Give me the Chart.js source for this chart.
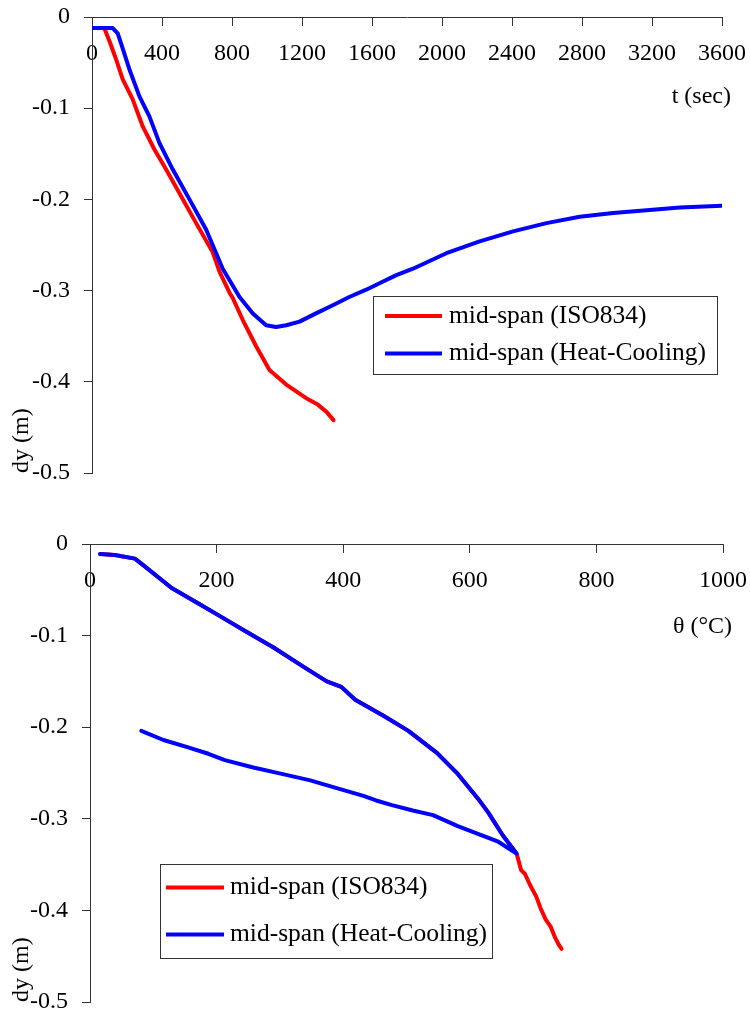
<!DOCTYPE html>
<html>
<head>
<meta charset="utf-8">
<script src="https://cdn.jsdelivr.net/npm/chart.js"></script>
<style>
  html, body { margin: 0; padding: 0; background: #fff; }
  canvas { display: block; }
</style>
</head>
<body>
<canvas id="chartTime" width="750" height="506"></canvas>
<canvas id="chartTemp" width="750" height="506"></canvas>
<script>
// top chart: deflection vs time
const isoTime = [0, 70, 99, 137, 175, 232, 290, 356, 423, 499, 595, 690, 728, 785, 804, 861, 938, 1014, 1110, 1224, 1290, 1340, 1380];
const isoDy = [-0.012, -0.012, -0.026, -0.046, -0.068, -0.090, -0.120, -0.145, -0.167, -0.193, -0.226, -0.258, -0.279, -0.302, -0.308, -0.332, -0.361, -0.387, -0.403, -0.418, -0.425, -0.433, -0.442];
const hcTime = [0, 117, 147, 166, 213, 271, 328, 385, 461, 557, 652, 747, 843, 919, 995, 1052, 1110, 1186, 1280, 1376, 1470, 1567, 1643, 1739, 1834, 2025, 2215, 2406, 2597, 2787, 2978, 3169, 3359, 3600];
const hcDy = [-0.012, -0.012, -0.018, -0.029, -0.057, -0.087, -0.109, -0.138, -0.167, -0.200, -0.233, -0.276, -0.307, -0.325, -0.338, -0.340, -0.338, -0.334, -0.325, -0.316, -0.307, -0.299, -0.292, -0.283, -0.276, -0.259, -0.246, -0.235, -0.226, -0.219, -0.215, -0.212, -0.209, -0.207];

// bottom chart: deflection vs temperature
const heatTemp = [16, 39, 71, 84, 129, 174, 206, 245, 290, 335, 374, 397, 419, 465, 503, 548, 581, 613, 629, 652, 674];
const heatDy = [-0.011, -0.012, -0.016, -0.023, -0.048, -0.066, -0.079, -0.095, -0.113, -0.133, -0.150, -0.156, -0.170, -0.188, -0.204, -0.228, -0.251, -0.278, -0.293, -0.318, -0.338];
const isoTailTemp = [681, 687, 695, 705, 712, 720, 728, 735, 741, 745];
const isoTailDy = [-0.356, -0.360, -0.372, -0.385, -0.398, -0.410, -0.418, -0.430, -0.438, -0.442];
const coolTemp = [645, 619, 581, 542, 510, 477, 452, 432, 387, 348, 303, 258, 213, 187, 155, 116, 81];
const coolDy = [-0.325, -0.318, -0.308, -0.296, -0.291, -0.285, -0.280, -0.275, -0.266, -0.258, -0.251, -0.244, -0.236, -0.229, -0.222, -0.214, -0.204];

const labels = ["mid-span (ISO834)", "mid-span (Heat-Cooling)"];
const colors = ["#ff0000", "#0000ff"];
const yTicks = [0, -0.1, -0.2, -0.3, -0.4, -0.5];

const serif = "'Liberation Serif', 'Times New Roman', serif";
const axisColor = "#333";

function pts(xs, ys) {
  return xs.map((x, i) => ({ x: x, y: ys[i] }));
}

// axis title on the x side + boxed legend
const overlay = {
  id: "overlay",
  afterDraw(chart, args, opts) {
    const ctx = chart.ctx;
    const area = chart.chartArea;
    ctx.save();
    ctx.fillStyle = "#000";
    ctx.font = "24px " + serif;
    ctx.textAlign = "right";
    ctx.textBaseline = "middle";
    ctx.fillText(opts.xTitle, area.right + 9, area.top + opts.titleDy);

    const b = opts.box;
    ctx.strokeStyle = axisColor;
    ctx.lineWidth = 1;
    ctx.strokeRect(b.x + 0.5, b.y + 0.5, b.w, b.h);
    ctx.font = "25.5px " + serif;
    ctx.textAlign = "left";
    chart.data.datasets.forEach((ds, i) => {
      const yy = b.y + b.rows[i];
      ctx.strokeStyle = ds.borderColor;
      ctx.lineWidth = 4;
      ctx.beginPath();
      ctx.moveTo(b.x + b.line0, yy);
      ctx.lineTo(b.x + b.line1, yy);
      ctx.stroke();
      ctx.fillText(ds.label, b.x + b.text, yy);
    });
    ctx.restore();
  },
};

function makeConfig(datasets, xMax, xStep, yWidth, pad, overlayOpts) {
  return {
    type: "scatter",
    data: { datasets: datasets },
    options: {
      responsive: false,
      animation: false,
      devicePixelRatio: 1,
      layout: { padding: pad },
      plugins: {
        legend: { display: false },
        tooltip: { enabled: false },
        overlay: overlayOpts,
      },
      scales: {
        x: {
          type: "linear",
          position: { y: 0 },
          min: 0,
          max: xMax,
          grid: { drawOnChartArea: false, tickLength: 8, color: axisColor },
          border: { color: axisColor },
          ticks: {
            stepSize: xStep,
            maxRotation: 0,
            autoSkip: false,
            padding: 14,
            color: "#000",
            font: { family: serif, size: 24 },
            callback: (v) => String(v),
          },
          afterFit: (s) => {
            s.paddingLeft = 0;
            s.paddingRight = 0;
          },
        },
        y: {
          type: "linear",
          position: "left",
          min: -0.5,
          max: 0,
          grid: { drawOnChartArea: false, tickLength: 8, color: axisColor },
          border: { color: axisColor },
          ticks: {
            stepSize: 0.1,
            padding: 14,
            color: "#000",
            font: { family: serif, size: 24 },
            callback: (v) => (v === 0 ? "0" : v.toFixed(1)),
          },
          title: {
            display: true,
            text: "dy (m)",
            align: "start",
            color: "#000",
            font: { family: serif, size: 24 },
            padding: { top: 7, bottom: 0 },
          },
          afterBuildTicks: (s) => {
            s.ticks = yTicks.map((v) => ({ value: v }));
          },
          afterFit: (s) => {
            s.width = yWidth;
            s.paddingTop = 0;
            s.paddingBottom = 0;
          },
        },
      },
    },
    plugins: [overlay],
  };
}

function lineSet(label, color, data, order) {
  return {
    label: label,
    data: data,
    showLine: true,
    borderColor: color,
    backgroundColor: color,
    borderWidth: 4,
    pointRadius: 0,
    tension: 0,
    borderJoinStyle: "round",
    borderCapStyle: "round",
    order: order,
  };
}

new Chart(
  document.getElementById("chartTime"),
  makeConfig(
    [
      lineSet(labels[0], colors[0], pts(isoTime, isoDy), 1),
      lineSet(labels[1], colors[1], pts(hcTime, hcDy), 0),
    ],
    3600,
    400,
    92,
    { left: 0, top: 17, right: 28, bottom: 33 },
    {
      xTitle: "t (sec)",
      titleDy: 80,
      box: { x: 373, y: 296, w: 344, h: 78, rows: [20, 57.5], line0: 12, line1: 69, text: 76 },
    }
  )
);

new Chart(
  document.getElementById("chartTemp"),
  makeConfig(
    [
      lineSet(labels[0], colors[0], pts(heatTemp.concat(isoTailTemp), heatDy.concat(isoTailDy)), 1),
      lineSet(labels[1], colors[1], pts(heatTemp.concat(coolTemp), heatDy.concat(coolDy)), 0),
    ],
    1000,
    200,
    90,
    { left: 0, top: 38, right: 27, bottom: 10 },
    {
      xTitle: "θ (°C)",
      titleDy: 83,
      box: { x: 160, y: 358, w: 332, h: 94, rows: [23.5, 70.5], line0: 6, line1: 64, text: 70 },
    }
  )
);
</script>
</body>
</html>
